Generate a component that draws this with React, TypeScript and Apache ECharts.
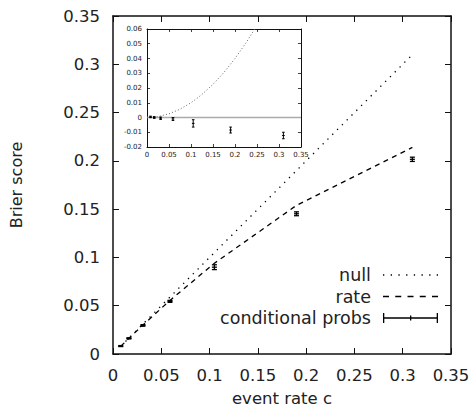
import React, { useEffect, useRef } from "react";
import * as echarts from "echarts";

// ---- data ----
const eventRates = [0.008, 0.0165, 0.031, 0.059, 0.105, 0.19, 0.31];
const nullScores = [0.008, 0.0165, 0.031, 0.059, 0.105, 0.19, 0.31];
const rateScores = [0.00794, 0.01623, 0.03004, 0.05552, 0.09398, 0.1539, 0.2139];
const condScores = [0.0082, 0.0162, 0.0296, 0.0545, 0.0899, 0.1452, 0.2016];
const condErrors = [0.0005, 0.0006, 0.0008, 0.001, 0.0025, 0.002, 0.0022];

// inset: differences relative to the "rate" score
const condDiff = [0.0004, 0.0, -0.0005, -0.001, -0.004, -0.0085, -0.0122];
const insetNullX = [0, 0.025, 0.05, 0.075, 0.1, 0.125, 0.15, 0.175, 0.2, 0.225, 0.25];
const insetNullY = [0, 0.0006, 0.0025, 0.0056, 0.01, 0.0156, 0.0225, 0.0306, 0.04, 0.0506, 0.0625];
const insetZeroX = [0, 0.35];
const insetZeroY = [0, 0];

const FONT = "DejaVu Sans";

const DOTTED_ICON =
  "path://M0,0 h1.3 v1.3 h-1.3 Z M7.7,0 h1.3 v1.3 h-1.3 Z M15.4,0 h1.3 v1.3 h-1.3 Z M23.1,0 h1.3 v1.3 h-1.3 Z M30.8,0 h1.3 v1.3 h-1.3 Z M38.5,0 h1.3 v1.3 h-1.3 Z M46.2,0 h1.3 v1.3 h-1.3 Z M53.7,0 h1.3 v1.3 h-1.3 Z";
const DASHED_ICON =
  "path://M0,0 h6 v1.3 h-6 Z M12.25,0 h6 v1.3 h-6 Z M24.5,0 h6 v1.3 h-6 Z M36.75,0 h6 v1.3 h-6 Z M49,0 h6 v1.3 h-6 Z";
const ERRBAR_ICON =
  "path://M0,2 L1.3,2 L1.3,6.35 L27,6.35 L27,4.5 L28.3,4.5 L28.3,6.35 L53.7,6.35 L53.7,2 L55,2 L55,12 L53.7,12 L53.7,7.65 L28.3,7.65 L28.3,9.5 L27,9.5 L27,7.65 L1.3,7.65 L1.3,12 L0,12 Z";

export default function App() {
  const ref = useRef<HTMLDivElement>(null);
  useEffect(() => {
    if (!ref.current) return;
    const chart = echarts.init(ref.current, undefined, { renderer: "svg" });

    const errRender = (capHalf: number, lw: number) => (params: any, api: any) => {
      const x = api.value(0);
      const lo = api.value(1);
      const hi = api.value(2);
      const y = api.value(3);
      const top = api.coord([x, hi]);
      const bot = api.coord([x, lo]);
      const mid = api.coord([x, y]);
      const st = { stroke: "#000", lineWidth: lw };
      return {
        type: "group",
        children: [
          { type: "line", shape: { x1: top[0], y1: top[1], x2: bot[0], y2: bot[1] }, style: st },
          { type: "line", shape: { x1: top[0] - capHalf, y1: top[1], x2: top[0] + capHalf, y2: top[1] }, style: st },
          { type: "line", shape: { x1: bot[0] - capHalf, y1: bot[1], x2: bot[0] + capHalf, y2: bot[1] }, style: st },
          { type: "line", shape: { x1: mid[0] - capHalf, y1: mid[1], x2: mid[0] + capHalf, y2: mid[1] }, style: st },
        ],
      };
    };

    const mainAxisLine = { show: true, onZero: false, lineStyle: { color: "#111", width: 1.5 } };
    const mainTick = { show: true, inside: true, length: 6, lineStyle: { color: "#111", width: 1 } };
    const insetAxisLine = { show: true, onZero: false, lineStyle: { color: "#111", width: 1 } };
    const insetTick = { show: true, inside: true, length: 3, lineStyle: { color: "#111", width: 0.8 } };
    const mainLabel = { fontFamily: FONT, fontSize: 16.5, color: "#222" };
    const insetLabel = { fontFamily: FONT, fontSize: 7, color: "#222" };

    chart.setOption({
      animation: false,
      backgroundColor: "#fff",
      grid: [
        { left: 112, top: 16, width: 339, height: 338 },
        { left: 147, top: 29, width: 154, height: 118, show: true, backgroundColor: "#fff", borderWidth: 0, z: 5 },
      ],
      legend: {
        orient: "vertical",
        align: "right",
        right: 36,
        top: 266,
        padding: 0,
        itemWidth: 55,
        itemHeight: 14,
        itemGap: 3.5,
        textStyle: { fontFamily: FONT, fontSize: 17.5, color: "#222", padding: [0, 7, 0, 0] },
        data: [
          { name: "null", icon: DOTTED_ICON },
          { name: "rate", icon: DASHED_ICON },
          { name: "conditional probs", icon: ERRBAR_ICON, itemStyle: { color: "#000" } },
        ],
      },
      xAxis: [
        {
          gridIndex: 0, type: "value", min: 0, max: 0.35, interval: 0.05,
          axisLine: mainAxisLine, axisTick: mainTick, splitLine: { show: false },
          axisLabel: { ...mainLabel, margin: 13 },
          name: "event rate c", nameLocation: "middle", nameGap: 36,
          nameTextStyle: { fontFamily: FONT, fontSize: 16.5, color: "#222" },
        },
        {
          gridIndex: 0, type: "value", position: "top", min: 0, max: 0.35, interval: 0.05,
          axisLine: mainAxisLine, axisTick: mainTick, splitLine: { show: false }, axisLabel: { show: false },
        },
        {
          gridIndex: 1, type: "value", min: 0, max: 0.35, interval: 0.05,
          axisLine: insetAxisLine, axisTick: insetTick, splitLine: { show: false },
          axisLabel: { ...insetLabel, margin: 4 }, z: 6,
        },
        {
          gridIndex: 1, type: "value", position: "top", min: 0, max: 0.35, interval: 0.05,
          axisLine: insetAxisLine, axisTick: insetTick, splitLine: { show: false }, axisLabel: { show: false }, z: 6,
        },
      ],
      yAxis: [
        {
          gridIndex: 0, type: "value", min: 0, max: 0.35, interval: 0.05,
          axisLine: mainAxisLine, axisTick: mainTick, splitLine: { show: false },
          axisLabel: { ...mainLabel, margin: 13 },
          name: "Brier score", nameLocation: "middle", nameGap: 89, nameRotate: 90,
          nameTextStyle: { fontFamily: FONT, fontSize: 16, color: "#222" },
        },
        {
          gridIndex: 0, type: "value", position: "right", min: 0, max: 0.35, interval: 0.05,
          axisLine: mainAxisLine, axisTick: mainTick, splitLine: { show: false }, axisLabel: { show: false },
        },
        {
          gridIndex: 1, type: "value", min: -0.02, max: 0.06, interval: 0.01,
          axisLine: insetAxisLine, axisTick: insetTick, splitLine: { show: false },
          axisLabel: { ...insetLabel, margin: 5 }, z: 6,
        },
        {
          gridIndex: 1, type: "value", position: "right", min: -0.02, max: 0.06, interval: 0.01,
          axisLine: insetAxisLine, axisTick: insetTick, splitLine: { show: false }, axisLabel: { show: false }, z: 6,
        },
      ],
      series: [
        {
          name: "null", type: "line", xAxisIndex: 0, yAxisIndex: 0,
          data: eventRates.map((c, i) => [c, nullScores[i]]),
          showSymbol: false, symbol: "none",
          lineStyle: { color: "#000", width: 1.3, type: [1.3, 5.5] },
          itemStyle: { color: "#000" },
        },
        {
          name: "rate", type: "line", xAxisIndex: 0, yAxisIndex: 0,
          data: eventRates.map((c, i) => [c, rateScores[i]]),
          showSymbol: false, symbol: "none",
          lineStyle: { color: "#000", width: 1.3, type: [5, 4.5] },
          itemStyle: { color: "#000" },
        },
        {
          name: "conditional probs", type: "custom", xAxisIndex: 0, yAxisIndex: 0,
          itemStyle: { color: "#000" },
          encode: { x: 0, y: [1, 2, 3] },
          data: eventRates.map((c, i) => [c, condScores[i] - condErrors[i], condScores[i] + condErrors[i], condScores[i]]),
          renderItem: errRender(2.5, 1.3),
        },
        {
          name: "inset zero", type: "line", xAxisIndex: 2, yAxisIndex: 2, z: 7,
          data: insetZeroX.map((x, i) => [x, insetZeroY[i]]),
          showSymbol: false, symbol: "none",
          lineStyle: { color: "#aaa", width: 1.5 },
        },
        {
          name: "inset null", type: "line", xAxisIndex: 2, yAxisIndex: 2, z: 7,
          data: insetNullX.map((x, i) => [x, insetNullY[i]]),
          showSymbol: false, symbol: "none", smooth: false,
          lineStyle: { color: "#666", width: 1, type: [1, 2.2] },
        },
        {
          name: "inset cond", type: "custom", xAxisIndex: 2, yAxisIndex: 2, z: 8,
          itemStyle: { color: "#000" },
          encode: { x: 0, y: [1, 2, 3] },
          data: eventRates.map((c, i) => [c, condDiff[i] - condErrors[i], condDiff[i] + condErrors[i], condDiff[i]]),
          renderItem: errRender(1.3, 1),
        },
      ],
    });
    return () => chart.dispose();
  }, []);
  return <div ref={ref} style={{ position: "fixed", left: 0, top: 0, width: 474, height: 413 }} />;
}
